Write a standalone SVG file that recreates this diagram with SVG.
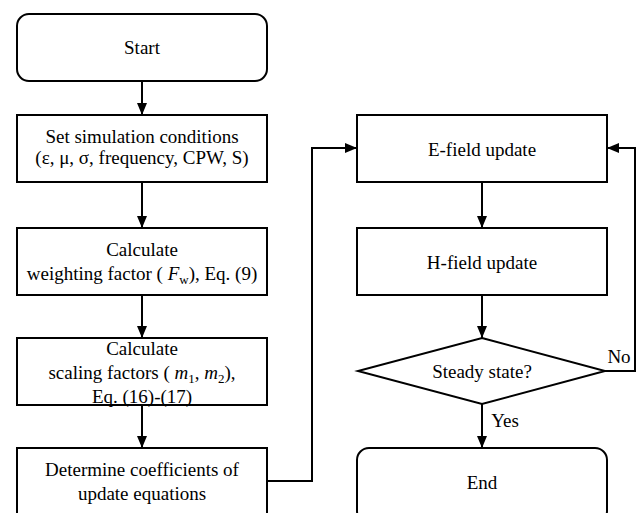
<svg xmlns="http://www.w3.org/2000/svg" width="637" height="513" viewBox="0 0 637 513">
<style>
.box{fill:#fff;stroke:#000;stroke-width:2}
.ln{fill:none;stroke:#000;stroke-width:2}
.t{font-family:'Liberation Serif','Times New Roman',serif;font-size:19px;fill:#000;text-anchor:middle}
.i{font-style:italic}
.sub{font-size:13px}
</style>
<defs>
<marker id="ah" viewBox="0 0 12 10" refX="12" refY="5" markerWidth="12" markerHeight="10" markerUnits="userSpaceOnUse" orient="auto">
<path d="M0,0 L12,5 L0,10 Z" fill="#000"/>
</marker>
</defs>
<g id="connectors">
<line class="ln" x1="142" y1="81" x2="142" y2="115" marker-end="url(#ah)"/>
<line class="ln" x1="142" y1="182" x2="142" y2="228" marker-end="url(#ah)"/>
<line class="ln" x1="142" y1="295" x2="142" y2="338" marker-end="url(#ah)"/>
<line class="ln" x1="142" y1="405" x2="142" y2="448" marker-end="url(#ah)"/>
<polyline class="ln" points="267,481 312,481 312,148 357,148" marker-end="url(#ah)"/>
<line class="ln" x1="482" y1="182" x2="482" y2="228" marker-end="url(#ah)"/>
<line class="ln" x1="482" y1="295" x2="482" y2="338" marker-end="url(#ah)"/>
<line class="ln" x1="482" y1="404" x2="482" y2="448" marker-end="url(#ah)"/>
<polyline class="ln" points="605,371 635,371 635,148 607,148" marker-end="url(#ah)"/>
<text class="t" x="505" y="427">Yes</text>
<text class="t" x="619" y="363">No</text>
</g>
<g id="start">
<rect class="box" x="17" y="14" width="250" height="67" rx="12"/>
<text class="t" x="142" y="54">Start</text>
</g>
<g id="setcond">
<rect class="box" x="17" y="115" width="250" height="67"/>
<text class="t" x="142" y="143">Set simulation conditions</text>
<text class="t" x="142" y="164">(ε, μ, σ, frequency, CPW, S)</text>
</g>
<g id="weighting">
<rect class="box" x="17" y="228" width="250" height="67"/>
<text class="t" x="142" y="256">Calculate</text>
<text class="t" x="142" y="280">weighting factor ( <tspan class="i">F</tspan><tspan class="sub" dy="4">w</tspan><tspan dy="-4">), Eq. (9)</tspan></text>
</g>
<g id="scaling">
<rect class="box" x="17" y="338" width="250" height="67"/>
<text class="t" x="142" y="355">Calculate</text>
<text class="t" x="142" y="379">scaling factors ( <tspan class="i">m</tspan><tspan class="sub" dy="4">1</tspan><tspan dy="-4">, </tspan><tspan class="i">m</tspan><tspan class="sub" dy="4">2</tspan><tspan dy="-4">),</tspan></text>
<text class="t" x="142" y="403">Eq. (16)-(17)</text>
</g>
<g id="determine">
<rect class="box" x="17" y="448" width="250" height="75"/>
<text class="t" x="142" y="476">Determine coefficients of</text>
<text class="t" x="142" y="500">update equations</text>
</g>
<g id="efield">
<rect class="box" x="357" y="115" width="250" height="67"/>
<text class="t" x="482" y="156">E-field update</text>
</g>
<g id="hfield">
<rect class="box" x="357" y="228" width="250" height="67"/>
<text class="t" x="482" y="269">H-field update</text>
</g>
<g id="steady">
<polygon class="box" points="482,338 605,371 482,404 358,371"/>
<text class="t" x="482" y="378">Steady state?</text>
</g>
<g id="end">
<rect class="box" x="357" y="448" width="250" height="75" rx="12"/>
<text class="t" x="482" y="489">End</text>
</g>
</svg>
